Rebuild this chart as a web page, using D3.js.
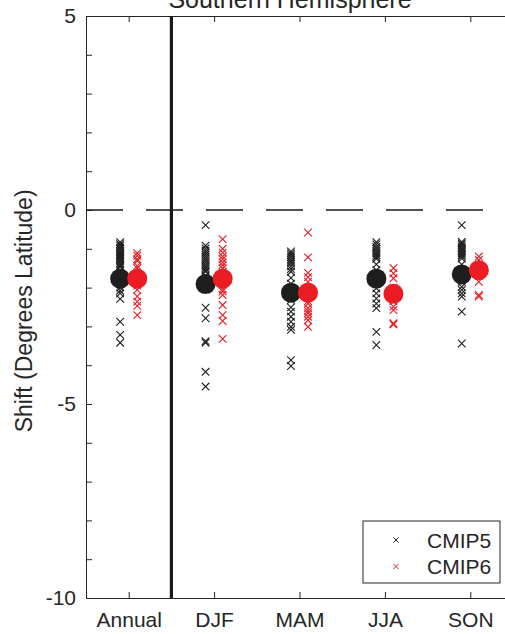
<!DOCTYPE html>
<meta charset="utf-8">
<html>
<head><title>Southern Hemisphere shift</title>
<script src="https://cdn.jsdelivr.net/npm/d3@7"></script>
<style>
    body { margin: 0; background: #fff; }
    text { font-family: "Liberation Sans", Arial, Helvetica, sans-serif; fill: #262626; }
    .axis path, .axis line { stroke: #262626; stroke-width: 1; }
    .axis text { font-size: 21px; }
</style>
</head>
<body>
<div id="chart"></div>
<script>
    // categories on the x axis
    var categories = ["Annual", "DJF", "MAM", "JJA", "SON"];
    var seriesNames = ["CMIP5", "CMIP6"];

    // individual model shifts (degrees latitude)
    var cmip5Annual = [-0.83, -0.88, -0.92, -0.97, -1.0, -1.05, -1.09, -1.13, -1.16, -1.2, -1.23, -1.27, -1.31, -1.36,
        -1.40, -1.44, -1.47, -1.55, -1.62, -1.7, -1.8, -1.9, -2.0, -2.08, -2.15, -2.29, -2.88, -3.22, -3.42];
    var cmip5DJF = [-0.39, -0.92, -0.99, -1.05, -1.1, -1.15, -1.2, -1.25, -1.3, -1.35, -1.4, -1.45, -1.5, -1.55,
        -1.59, -1.7, -1.8, -1.95, -2.05, -2.52, -2.79, -3.38, -3.42, -4.17, -4.55];
    var cmip5MAM = [-1.07, -1.12, -1.17, -1.22, -1.28, -1.33, -1.38, -1.45, -1.52, -1.59, -1.75, -1.9, -2.05, -2.2,
        -2.32, -2.51, -2.62, -2.75, -2.88, -3.01, -3.09, -3.87, -4.02];
    var cmip5JJA = [-0.83, -0.89, -0.95, -1.0, -1.06, -1.11, -1.16, -1.21, -1.26, -1.4, -1.55, -1.7, -1.85,
        -2.02, -2.15, -2.28, -2.41, -2.53, -3.14, -3.48];
    var cmip5SON = [-0.39, -0.82, -0.86, -0.9, -0.95, -0.99, -1.03, -1.07, -1.12, -1.16, -1.2, -1.25, -1.4, -1.55,
        -1.7, -1.85, -1.98, -2.06, -2.15, -2.23, -2.62, -3.44];

    var cmip6Annual = [-1.11, -1.18, -1.27, -1.31, -1.44, -1.5, -1.65, -1.8, -1.95, -2.06, -2.23, -2.36, -2.47, -2.71];
    var cmip6DJF = [-0.75, -1.0, -1.1, -1.2, -1.27, -1.35, -1.42, -1.5, -1.6, -1.75, -1.9, -2.05, -2.1, -2.19,
        -2.45, -2.71, -2.86, -3.32];
    var cmip6MAM = [-0.58, -1.22, -1.62, -1.73, -1.85, -2.0, -2.2, -2.35, -2.41, -2.53, -2.6, -2.66, -2.75, -2.84, -3.01];
    var cmip6JJA = [-1.50, -1.63, -1.76, -2.0, -2.2, -2.35, -2.49, -2.58, -2.92, -2.95];
    var cmip6SON = [-1.20, -1.29, -1.4, -1.55, -1.7, -1.85, -2.19, -2.23];

    // multi-model means (large dots)
    var cmip5Mean = [-1.77, -1.91, -2.13, -1.77, -1.66];
    var cmip6Mean = [-1.77, -1.77, -2.13, -2.16, -1.55];

    var yTicks = [5, 4, 3, 2, 1, 0, -1, -2, -3, -4, -5, -6, -7, -8, -9, -10];

    var cmip5 = [cmip5Annual, cmip5DJF, cmip5MAM, cmip5JJA, cmip5SON];
    var cmip6 = [cmip6Annual, cmip6DJF, cmip6MAM, cmip6JJA, cmip6SON];

    var W = 505, H = 634;
    var colors = ["#1e1e1e", "#ec1c24"];
    var offset = 0.1;   // x offset of each model group from the category tick

    var svg = d3.select("#chart").append("svg")
        .attr("width", W)
        .attr("height", H);

    var x = d3.scaleLinear().domain([0.5, 5.5]).range([86, 513]);
    var y = d3.scaleLinear().domain([-10, 5]).range([598, 16]);

    // title (cut off by the top of the picture, as in the original)
    svg.append("text")
        .attr("x", 290)
        .attr("y", 8)
        .attr("text-anchor", "middle")
        .style("font-size", "25px")
        .text("Southern Hemisphere");

    // y label
    svg.append("text")
        .attr("transform", "translate(26," + y(-2.6) + ") rotate(-90)")
        .attr("text-anchor", "middle")
        .attr("dominant-baseline", "middle")
        .style("font-size", "23px")
        .text("Shift (Degrees Latitude)");

    // axes
    svg.append("g")
        .attr("class", "axis")
        .attr("transform", "translate(" + x(0.5) + ",0)")
        .call(d3.axisLeft(y).tickValues(yTicks).tickSizeInner(-6).tickSizeOuter(0).tickPadding(10)
            .tickFormat(function(d) { return d % 5 === 0 ? d : ""; }));

    svg.append("g")
        .attr("class", "axis")
        .attr("transform", "translate(0," + y(-10) + ")")
        .call(d3.axisBottom(x).tickValues([1, 2, 3, 4, 5]).tickSizeInner(-6).tickSizeOuter(0).tickPadding(14)
            .tickFormat(function(d) { return categories[d - 1]; }));

    svg.append("g")
        .attr("class", "axis")
        .attr("transform", "translate(0," + y(5) + ")")
        .call(d3.axisTop(x).tickValues([1, 2, 3, 4, 5]).tickSizeInner(-6).tickSizeOuter(0).tickFormat(""));

    // zero line
    svg.append("line")
        .attr("x1", x(0.5)).attr("x2", x(5.5))
        .attr("y1", y(0)).attr("y2", y(0))
        .attr("stroke", "#1a1a1a")
        .attr("stroke-width", 1.5)
        .attr("stroke-dasharray", "37,23");

    // separator between annual and seasons
    svg.append("line")
        .attr("x1", x(1.5)).attr("x2", x(1.5))
        .attr("y1", y(5)).attr("y2", y(-10))
        .attr("stroke", "#1a1a1a")
        .attr("stroke-width", 3.2);

    function cross(cx, cy, s) {
        return "M" + (cx - s) + "," + (cy - s) + "L" + (cx + s) + "," + (cy + s) +
            "M" + (cx - s) + "," + (cy + s) + "L" + (cx + s) + "," + (cy - s);
    }

    [cmip5, cmip6].forEach(function(series, si) {
        var dx = si === 0 ? -offset : offset;
        var pts = [];
        series.forEach(function(vals, ci) {
            vals.forEach(function(v) { pts.push({c: ci + 1, v: v}); });
        });
        svg.append("g").selectAll("path")
            .data(pts)
            .enter()
            .append("path")
            .attr("d", function(d) { return cross(x(d.c + dx), y(d.v), 3.8); })
            .attr("stroke", colors[si])
            .attr("stroke-width", 1.1)
            .attr("fill", "none");

        var means = si === 0 ? cmip5Mean : cmip6Mean;
        svg.append("g").selectAll("circle")
            .data(means)
            .enter()
            .append("circle")
            .attr("cx", function(d, i) { return x(i + 1 + dx); })
            .attr("cy", function(d) { return y(d); })
            .attr("r", 10)
            .attr("fill", colors[si]);
    });

    // legend
    var legend = svg.append("g").attr("transform", "translate(363,521)");
    legend.append("rect")
        .attr("width", 137)
        .attr("height", 62)
        .attr("fill", "#fff")
        .attr("stroke", "#262626")
        .attr("stroke-width", 1);
    seriesNames.forEach(function(name, i) {
        var ly = 19 + i * 26.5;
        legend.append("path")
            .attr("d", cross(33, ly, 2.6))
            .attr("stroke", colors[i])
            .attr("stroke-width", 1)
            .attr("fill", "none");
        legend.append("text")
            .attr("x", 64)
            .attr("y", ly)
            .attr("dominant-baseline", "central")
            .style("font-size", "21px")
            .text(name);
    });
</script>
</body>
</html>
